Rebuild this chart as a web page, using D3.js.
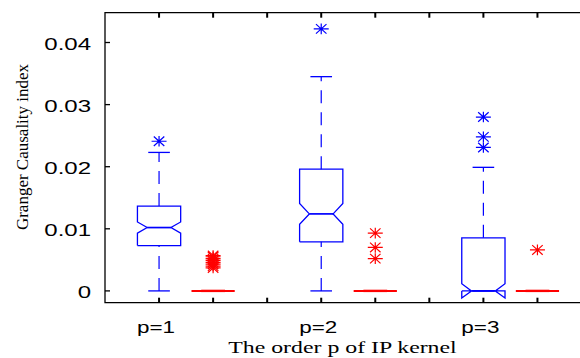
<!DOCTYPE html>
<html>
<head>
<meta charset="utf-8">
<script src="https://cdn.jsdelivr.net/npm/d3@7"></script>
<style>
  body { margin: 0; background: #fff; }
</style>
</head>
<body>
<div id="chart"></div>
<script>
// data
var groups = ["p=1", "p=2", "p=3"];
var yTicks = [0, 0.01, 0.02, 0.03, 0.04];

// blue boxes (low, q1, median, q3, high, notch half-height)
var blueLow = [0, 0, 0];
var blueQ1 = [0.0073, 0.0079, 0];
var blueMed = [0.0102, 0.0124, 0];
var blueQ3 = [0.01366, 0.0196, 0.00855];
var blueHigh = [0.0223, 0.0345, 0.0199];
var blueNotch = [0.0009, 0.00167, 0.00115];
var blueOut = [[0.0241], [0.0422], [0.0280, 0.0248, 0.0231]];

// red boxes are all zero
var redLow = [0, 0, 0];
var redQ1 = [0, 0, 0];
var redMed = [0, 0, 0];
var redQ3 = [0, 0, 0];
var redHigh = [0, 0, 0];
var redNotch = [0, 0, 0];
var redOut = [[0.0037, 0.0040, 0.0043, 0.0046, 0.0049, 0.0052, 0.0055, 0.0057], [0.0093, 0.0070, 0.0052], [0.0066]];

var W = 580, H = 358;
var plotLeft = 105, plotTop = 12.7, plotBottom = 302.7;

var svg = d3.select("#chart").append("svg")
    .attr("width", W)
    .attr("height", H);

var x = d3.scaleLinear().domain([0, 9]).range([plotLeft, 591.5]);
var y = d3.scaleLinear().domain([-0.0019, 0.0448]).range([plotBottom, plotTop]);

function stretch(sel, k) {
  sel.each(function() {
    var w = this.getComputedTextLength();
    d3.select(this).attr("textLength", w * k).attr("lengthAdjust", "spacingAndGlyphs");
  });
}

// frame
svg.append("path")
  .attr("d", "M" + (W + 5) + "," + plotTop + "H" + plotLeft + "V" + plotBottom + "H" + (W + 5))
  .attr("fill", "none").attr("stroke", "#000").attr("stroke-width", 1.3);

// y ticks and labels
svg.selectAll(".yt").data(yTicks).enter().append("line")
  .attr("x1", plotLeft).attr("x2", plotLeft + 5)
  .attr("y1", function(d) { return y(d); }).attr("y2", function(d) { return y(d); })
  .attr("stroke", "#000").attr("stroke-width", 1.3);

var yl = svg.selectAll(".yl").data(yTicks).enter().append("text")
  .attr("x", 91)
  .attr("y", function(d) { return y(d) + 7; })
  .attr("text-anchor", "end")
  .attr("font-family", "Liberation Sans, Arial, sans-serif")
  .attr("font-size", "16px")
  .text(function(d) { return d === 0 ? "0" : d3.format(".2f")(d); });
stretch(yl, 1.5);

// x ticks top and bottom
var xTicks = d3.range(1, 9);
svg.selectAll(".xb").data(xTicks).enter().append("line")
  .attr("x1", function(d) { return x(d); }).attr("x2", function(d) { return x(d); })
  .attr("y1", plotBottom).attr("y2", plotBottom - 5)
  .attr("stroke", "#000").attr("stroke-width", 2);
svg.selectAll(".xtop").data(xTicks).enter().append("line")
  .attr("x1", function(d) { return x(d); }).attr("x2", function(d) { return x(d); })
  .attr("y1", plotTop).attr("y2", plotTop + 5)
  .attr("stroke", "#000").attr("stroke-width", 2);

// group labels
var gl = svg.selectAll(".gl").data(groups).enter().append("text")
  .attr("x", function(d, i) { return x(3 * i + 1) - 3; })
  .attr("y", 332.5)
  .attr("text-anchor", "middle")
  .attr("font-family", "Liberation Sans, Arial, sans-serif")
  .attr("font-size", "16px")
  .text(function(d) { return d; });
stretch(gl, 1.4);

// axis titles
var xt = svg.append("text")
  .attr("x", 342.5).attr("y", 353)
  .attr("text-anchor", "middle")
  .attr("font-family", "Liberation Serif, Times New Roman, serif")
  .attr("font-size", "17px")
  .text("The order p of IP kernel");
stretch(xt, 1.4);

svg.append("text")
  .attr("transform", "translate(28,147) rotate(-90)")
  .attr("text-anchor", "middle")
  .attr("font-family", "Liberation Serif, Times New Roman, serif")
  .attr("font-size", "17px")
  .text("Granger Causality index");

function makeBoxes(low, q1, med, q3, high, notch) {
  return groups.map(function(g, i) {
    return {i: i, low: low[i], q1: q1[i], med: med[i], q3: q3[i], high: high[i], notch: notch[i]};
  });
}

function asterisk(sel, color) {
  var w = 7.5, h = 5.3;
  sel.append("path")
    .attr("d", "M" + (-w) + ",0H" + w + "M0," + (-h) + "V" + h +
      "M" + (-w * 0.7) + "," + (-h * 0.9) + "L" + (w * 0.7) + "," + (h * 0.9) +
      "M" + (-w * 0.7) + "," + (h * 0.9) + "L" + (w * 0.7) + "," + (-h * 0.9))
    .attr("stroke", color).attr("stroke-width", 1.2).attr("fill", "none");
}

function drawBoxes(stats, outs, off, color, sw) {
  var half = 0.4, cap = 0.2, nh = 0.22;
  var g = svg.append("g");
  stats.forEach(function(d) {
    var c = 3 * d.i + off;
    var l = x(c - half), r = x(c + half), nl = x(c - nh), nr = x(c + nh), cx = x(c);
    var n1 = d.med - d.notch, n2 = d.med + d.notch;
    // whiskers
    g.append("line").attr("x1", cx).attr("x2", cx)
      .attr("y1", y(d.q3)).attr("y2", y(d.high))
      .attr("stroke", color).attr("stroke-width", 1.2).attr("stroke-dasharray", "13,9");
    g.append("line").attr("x1", cx).attr("x2", cx)
      .attr("y1", y(d.low)).attr("y2", y(d.q1))
      .attr("stroke", color).attr("stroke-width", 1.2).attr("stroke-dasharray", "13,9");
    [d.high, d.low].forEach(function(v) {
      g.append("line").attr("x1", x(c - cap)).attr("x2", x(c + cap))
        .attr("y1", y(v)).attr("y2", y(v))
        .attr("stroke", color).attr("stroke-width", 1.3);
    });
    // notched box
    var pts = [[l, d.q1], [l, n1], [nl, d.med], [l, n2], [l, d.q3], [r, d.q3],
               [r, n2], [nr, d.med], [r, n1], [r, d.q1], [l, d.q1]];
    g.append("path")
      .attr("d", d3.line().x(function(p) { return p[0]; }).y(function(p) { return y(p[1]); })(pts))
      .attr("fill", "none").attr("stroke", color).attr("stroke-width", sw);
    g.append("line").attr("x1", nl).attr("x2", nr)
      .attr("y1", y(d.med)).attr("y2", y(d.med))
      .attr("stroke", color).attr("stroke-width", sw + 0.4);
    // outliers
    outs[d.i].forEach(function(v) {
      var a = g.append("g").attr("transform", "translate(" + cx + "," + y(v) + ")");
      asterisk(a, color);
    });
  });
}

drawBoxes(makeBoxes(blueLow, blueQ1, blueMed, blueQ3, blueHigh, blueNotch), blueOut, 1, "#0000ff", 1.3);
drawBoxes(makeBoxes(redLow, redQ1, redMed, redQ3, redHigh, redNotch), redOut, 2, "#ff0000", 2);
</script>
</body>
</html>
